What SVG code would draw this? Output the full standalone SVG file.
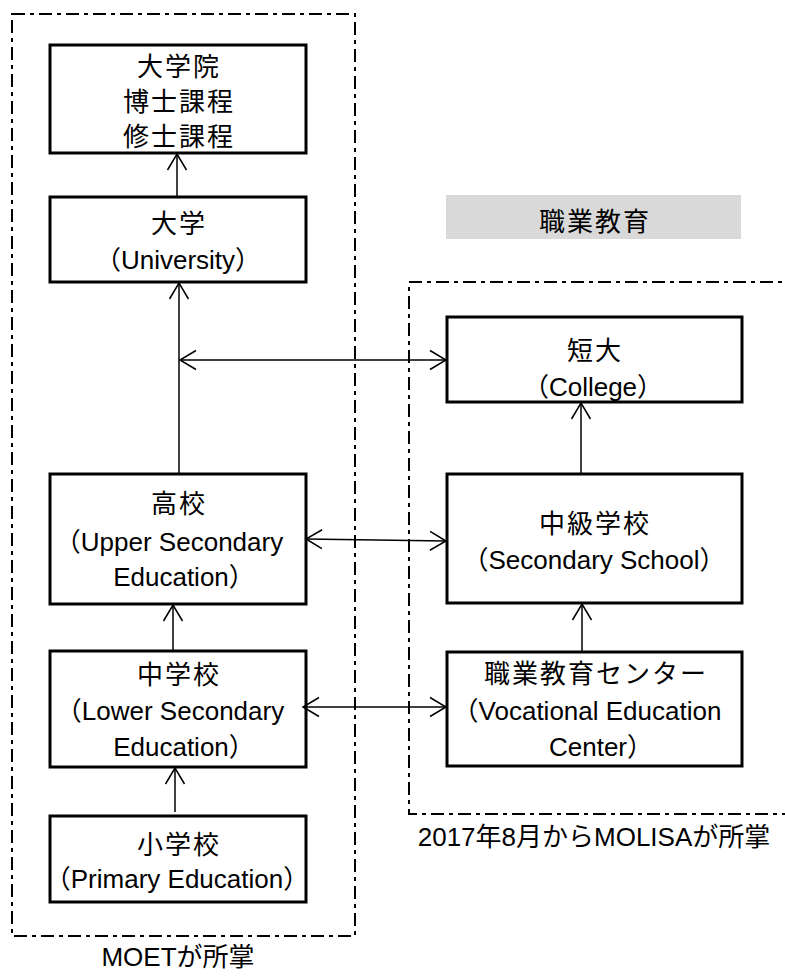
<svg xmlns="http://www.w3.org/2000/svg" width="785" height="976" viewBox="0 0 785 976">
<defs>
<style>
.box{fill:#fff;stroke:#000;stroke-width:3}
.zone{fill:none;stroke:#000;stroke-width:2;stroke-dasharray:13 5 4 5}
.con{fill:none;stroke:#000;stroke-width:1.5}
text{font-family:"Liberation Sans","Noto Sans CJK JP",sans-serif;font-size:26px;fill:#000;text-anchor:middle}
.cj{letter-spacing:2px}
</style>
<marker id="ah" viewBox="-18 -11 20 22" markerWidth="20" markerHeight="22" refX="0" refY="0" markerUnits="userSpaceOnUse" orient="auto-start-reverse" overflow="visible">
<path d="M-16,-9.5 L0,0 L-16,9.5" fill="none" stroke="#000" stroke-width="1.5"/>
</marker>
</defs>
<rect width="785" height="976" fill="#fff"/>
<g id="zone-moet">
<rect class="zone" x="12" y="14" width="343" height="922"/>
<text x="178" y="966">MOETが所掌</text>
</g>
<g id="zone-molisa">
<path class="zone" d="M800,282 H409 V814 H800"/>
<text x="594" y="846">2017年8月からMOLISAが所掌</text>
</g>
<g id="label-vocational">
<rect x="446" y="195" width="295" height="44" fill="#d9d9d9"/>
<text class="cj" x="595" y="231">職業教育</text>
</g>
<g id="graduate">
<rect class="box" x="50" y="45" width="256" height="108"/>
<text class="cj" x="179" y="76">大学院</text>
<text class="cj" x="179" y="111">博士課程</text>
<text class="cj" x="179" y="146">修士課程</text>
</g>
<g id="university">
<rect class="box" x="50" y="197" width="256" height="85"/>
<text class="cj" x="179" y="233">大学</text>
<text x="178" y="269">（University）</text>
</g>
<g id="upper-secondary">
<rect class="box" x="50" y="474" width="256" height="130"/>
<text class="cj" x="179" y="513">高校</text>
<text x="169" y="551">（Upper Secondary</text>
<text x="184" y="586">Education）</text>
</g>
<g id="lower-secondary">
<rect class="box" x="50" y="651" width="256" height="116"/>
<text class="cj" x="179" y="684">中学校</text>
<text x="170" y="720">（Lower Secondary</text>
<text x="184" y="756">Education）</text>
</g>
<g id="primary">
<rect class="box" x="50" y="816" width="256" height="86"/>
<text class="cj" x="179" y="854">小学校</text>
<text x="177" y="888">（Primary Education）</text>
</g>
<g id="college">
<rect class="box" x="447" y="317" width="295" height="85"/>
<text class="cj" x="595" y="360">短大</text>
<text x="593" y="396">（College）</text>
</g>
<g id="secondary-school">
<rect class="box" x="447" y="474" width="295" height="129"/>
<text class="cj" x="595" y="533">中級学校</text>
<text x="594" y="569">（Secondary School）</text>
</g>
<g id="vocational-center">
<rect class="box" x="447" y="652" width="295" height="114"/>
<text class="cj" x="596" y="683">職業教育センター</text>
<text x="587" y="720">（Vocational Education</text>
<text x="601" y="756">Center）</text>
</g>
<g id="connectors">
<line class="con" x1="177" y1="197" x2="177" y2="154" marker-end="url(#ah)"/>
<line class="con" x1="179" y1="474" x2="179" y2="283" marker-end="url(#ah)"/>
<line class="con" x1="173" y1="650" x2="173" y2="605" marker-end="url(#ah)"/>
<line class="con" x1="175" y1="812" x2="175" y2="768" marker-end="url(#ah)"/>
<line class="con" x1="581" y1="474" x2="581" y2="403" marker-end="url(#ah)"/>
<line class="con" x1="582" y1="651" x2="582" y2="604" marker-end="url(#ah)"/>
<line class="con" x1="180" y1="360" x2="446" y2="360" marker-start="url(#ah)" marker-end="url(#ah)"/>
<line class="con" x1="306" y1="539" x2="446" y2="541" marker-start="url(#ah)" marker-end="url(#ah)"/>
<line class="con" x1="303" y1="707" x2="446" y2="707" marker-start="url(#ah)" marker-end="url(#ah)"/>
</g>
</svg>
